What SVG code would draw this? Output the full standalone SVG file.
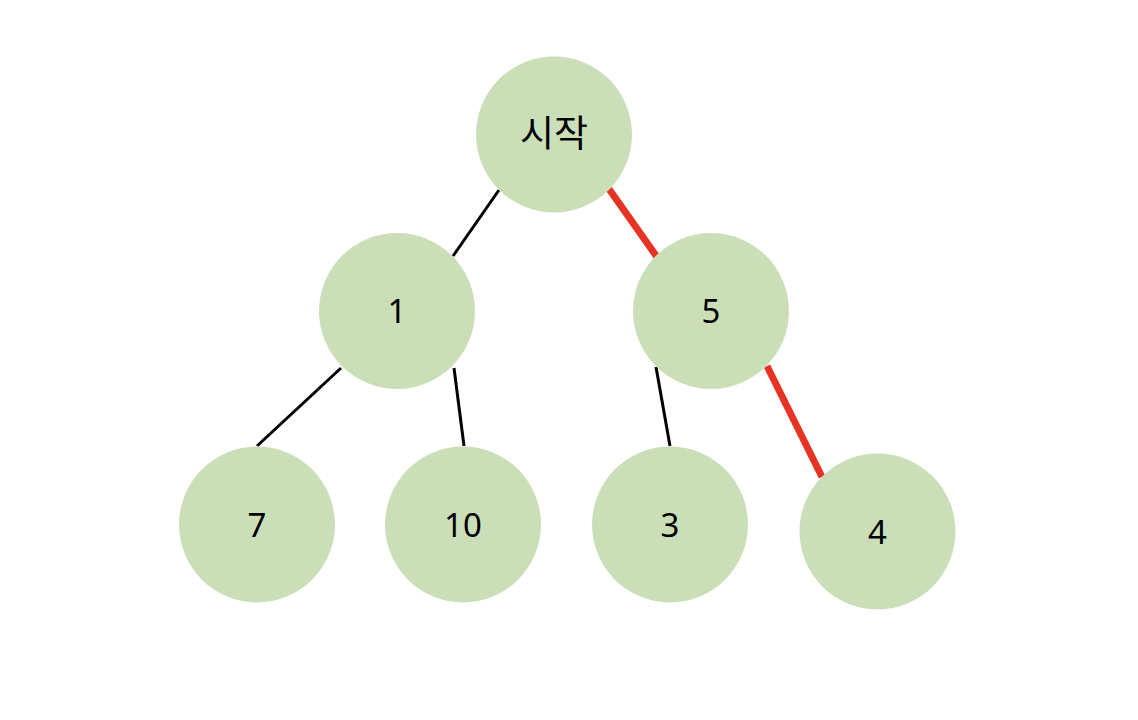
<svg xmlns="http://www.w3.org/2000/svg" width="1138" height="720" viewBox="0 0 1138 720">
<style>
.node{fill:#cadfb8;}
.lbl{font-family:"Noto Sans","Noto Sans CJK KR",sans-serif;font-size:33px;fill:#000;text-anchor:middle;}
.kr{font-family:"Noto Sans CJK KR",sans-serif;font-size:37px;}
.e{stroke:#000;stroke-width:3;fill:none;}
.hot{stroke:#e63323;stroke-width:7;fill:none;}
</style>
<rect width="1138" height="720" fill="#fff"/>
<g id="connectors">
<line class="e" x1="499" y1="190" x2="453" y2="256"/>
<line class="hot" x1="609" y1="189" x2="657" y2="257"/>
<line class="e" x1="341" y1="368" x2="257" y2="446"/>
<line class="e" x1="454" y1="368" x2="464" y2="446"/>
<line class="e" x1="656" y1="367" x2="670" y2="446"/>
<line class="hot" x1="767" y1="366" x2="822" y2="477"/>
</g>
<g id="start"><circle class="node" cx="554" cy="134.5" r="78"/><text class="lbl kr" x="554" y="147">시작</text></g>
<g id="n1"><circle class="node" cx="397" cy="311" r="78"/><text class="lbl" x="397" y="323">1</text></g>
<g id="n5"><circle class="node" cx="711" cy="311" r="78"/><text class="lbl" x="711" y="323">5</text></g>
<g id="n7"><circle class="node" cx="257" cy="524.5" r="78"/><text class="lbl" x="257" y="537">7</text></g>
<g id="n10"><circle class="node" cx="463" cy="524.5" r="78"/><text class="lbl" x="463" y="537">10</text></g>
<g id="n3"><circle class="node" cx="670" cy="524.5" r="78"/><text class="lbl" x="670" y="537">3</text></g>
<g id="n4"><circle class="node" cx="877.5" cy="531.5" r="78"/><text class="lbl" x="877.5" y="544">4</text></g>
</svg>
